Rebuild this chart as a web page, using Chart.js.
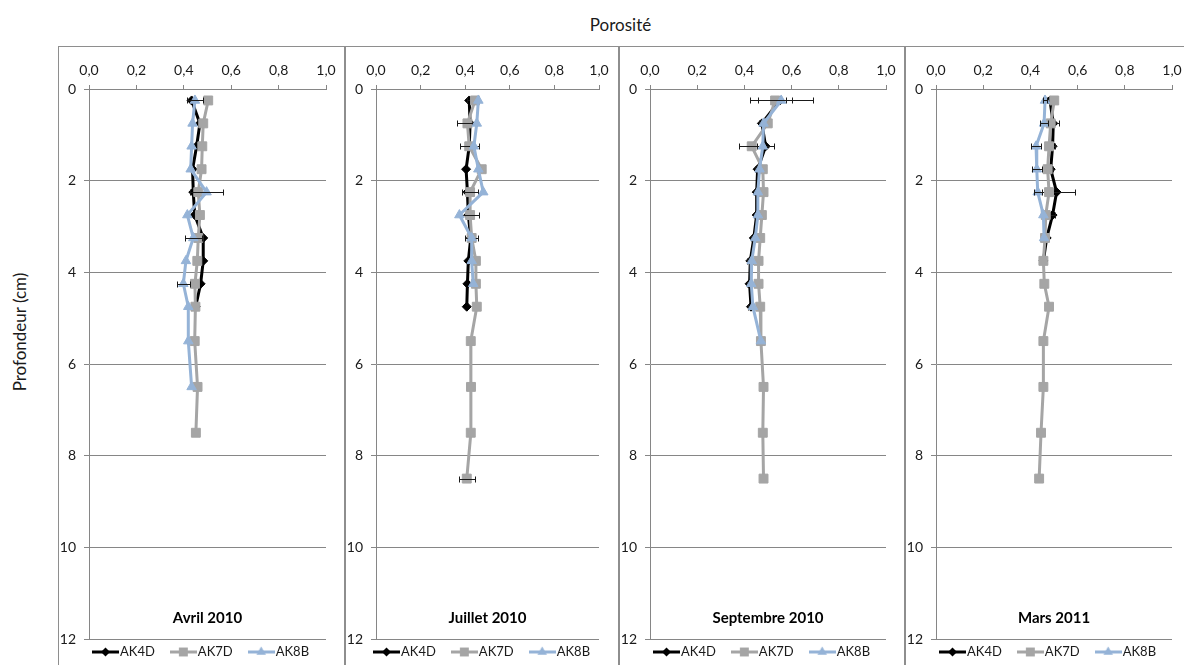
<!DOCTYPE html>
<html>
<head>
<meta charset="utf-8">
<script src="https://cdn.jsdelivr.net/npm/chart.js@4.4.1/dist/chart.umd.min.js"></script>
<style>
  html, body { margin: 0; padding: 0; background: #fff; overflow: hidden; width: 1184px; height: 665px; }
  #title { position: absolute; left: 58px; width: 1125px; top: 14px; text-align: center; font: 17px Lato, sans-serif; color: #1a1a1a; }
  #ylab { position: absolute; left: 19px; top: 332px; transform: translate(-50%, -50%) rotate(-90deg); font: 17px Lato, sans-serif; color: #1a1a1a; white-space: nowrap; }
  .panel { position: absolute; top: 46px; height: 640px; border: 1px solid #8e8e8e; box-sizing: border-box; overflow: hidden; background: #fff; }
  .panel canvas { position: absolute; left: 0; top: 0; }
</style>
</head>
<body>
<div id="title">Porosité</div>
<div id="ylab">Profondeur (cm)</div>
<div class="panel" style="left:58px;width:287px"><canvas id="c1" width="285" height="618"></canvas></div>
<div class="panel" style="left:345px;width:274px"><canvas id="c2" width="272" height="618"></canvas></div>
<div class="panel" style="left:619px;width:286px"><canvas id="c3" width="284" height="618"></canvas></div>
<div class="panel" style="left:905px;width:287px"><canvas id="c4" width="285" height="618"></canvas></div>
<script>
// Sampling depths (cm), shared by all profiles
const depths = [0.25, 0.75, 1.25, 1.75, 2.25, 2.75, 3.25, 3.75, 4.25, 4.75, 5.5, 6.5, 7.5, 8.5];
const seriesNames = ['AK4D', 'AK7D', 'AK8B'];
const panelTitles = ['Avril 2010', 'Juillet 2010', 'Septembre 2010', 'Mars 2011'];
const porosityTicks = [0, 0.2, 0.4, 0.6, 0.8, 1.0];
const depthTicks = [0, 2, 4, 6, 8, 10, 12];

// Avril 2010
const avrilAK4D = [0.433, 0.468, 0.454, 0.437, 0.440, 0.446, 0.482, 0.482, 0.471, 0.450];
const avrilAK7D = [0.503, 0.482, 0.478, 0.475, 0.461, 0.468, 0.461, 0.457, 0.447, 0.449, 0.446, 0.458, 0.451];
const avrilAK8B = [0.447, 0.437, 0.433, 0.429, 0.496, 0.415, 0.440, 0.409, 0.398, 0.419, 0.419, 0.433];
const avrilAK4DErr = [0, 0, 0, 0, 0, 0, 0, 0, 0, 0];
const avrilAK7DErr = [0, 0, 0, 0, 0, 0, 0, 0, 0, 0, 0, 0, 0];
const avrilAK8BErr = [0.033, 0, 0, 0, 0.07, 0, 0.035, 0, 0.028, 0, 0, 0];

// Juillet 2010
const juilletAK4D = [0.418, 0.422, 0.418, 0.404, 0.410, 0.414, 0.425, 0.414, 0.410, 0.407];
const juilletAK7D = [0.444, 0.410, 0.418, 0.474, 0.422, 0.422, 0.429, 0.448, 0.448, 0.452, 0.425, 0.426, 0.425, 0.407];
const juilletAK8B = [0.459, 0.452, 0.439, 0.459, 0.481, 0.374, 0.429, 0.429, 0.436];
const juilletAK4DErr = [0.01, 0, 0, 0, 0, 0, 0, 0, 0, 0];
const juilletAK7DErr = [0, 0.045, 0.042, 0, 0.035, 0.04, 0.03, 0, 0, 0, 0, 0, 0, 0.037];
const juilletAK8BErr = [0, 0, 0, 0, 0, 0, 0, 0, 0];

// Septembre 2010
const septembreAK4D = [0.550, 0.474, 0.490, 0.456, 0.452, 0.452, 0.440, 0.425, 0.422, 0.428];
const septembreAK7D = [0.530, 0.499, 0.431, 0.478, 0.481, 0.474, 0.467, 0.460, 0.460, 0.467, 0.470, 0.481, 0.478, 0.481];
const septembreAK8B = [0.556, 0.481, 0.478, 0.464, 0.457, 0.457, 0.446, 0.431, 0.429, 0.436, 0.470];
const septembreAK4DErr = [0.028, 0.012, 0.037, 0.012, 0.012, 0.012, 0.012, 0.012, 0.012, 0.012];
const septembreAK7DErr = [0.073, 0, 0.055, 0, 0, 0, 0, 0, 0, 0, 0, 0, 0, 0];
const septembreAK8BErr = [0.133, 0, 0, 0, 0, 0, 0, 0, 0, 0, 0];

// Mars 2011
const marsAK4D = [0.483, 0.497, 0.494, 0.486, 0.511, 0.494, 0.469, 0.455];
const marsAK7D = [0.501, 0.486, 0.479, 0.473, 0.479, 0.465, 0.462, 0.455, 0.459, 0.479, 0.455, 0.455, 0.445, 0.437];
const marsAK8B = [0.462, 0.458, 0.424, 0.427, 0.431, 0.455, 0.458];
const marsAK4DErr = [0, 0.025, 0.01, 0.01, 0.078, 0.01, 0, 0];
const marsAK7DErr = [0, 0, 0, 0, 0, 0, 0, 0, 0, 0, 0, 0, 0, 0];
const marsAK8BErr = [0.01, 0.018, 0.021, 0.021, 0.017, 0, 0];

Chart.defaults.font.family = 'Lato, sans-serif';

const GRID = '#868686';
const TEXT = '#1a1a1a';
const seriesStyles = [
  { color: '#000000', pointStyle: 'rectRot', radius: 4.5 },
  { color: '#a5a5a5', pointStyle: 'rect', radius: 6.3 },
  { color: '#95b3d7', pointStyle: 'triangle', radius: 5.5 }
];

// Small line-plus-marker glyph used as legend symbol
function legendGlyph(style) {
  const c = document.createElement('canvas');
  c.width = 27; c.height = 12;
  const g = c.getContext('2d');
  g.strokeStyle = style.color; g.fillStyle = style.color;
  g.lineWidth = 3;
  g.beginPath(); g.moveTo(0, 6); g.lineTo(27, 6); g.stroke();
  const cx = 13.5, cy = 6, r = style.radius;
  g.beginPath();
  if (style.pointStyle === 'rectRot') {
    g.moveTo(cx, cy - r); g.lineTo(cx + r, cy); g.lineTo(cx, cy + r); g.lineTo(cx - r, cy);
  } else if (style.pointStyle === 'rect') {
    const s = r * Math.SQRT1_2;
    g.rect(cx - s, cy - s, 2 * s, 2 * s);
  } else {
    const h = Math.sqrt(3) / 2 * r;
    g.moveTo(cx, cy - r); g.lineTo(cx + h, cy + r / 2); g.lineTo(cx - h, cy + r / 2);
  }
  g.closePath(); g.fill();
  return c;
}
const glyphs = seriesStyles.map(legendGlyph);

// Horizontal error bars, drawn with each series
const errorBars = {
  id: 'errorBars',
  afterDatasetDraw(chart, args) {
    const ds = chart.data.datasets[args.index];
    if (!ds.errors) return;
    const xs = chart.scales.x, ctx = chart.ctx;
    ctx.save();
    ctx.strokeStyle = '#1a1a1a';
    ctx.lineWidth = 1;
    args.meta.data.forEach((pt, i) => {
      const e = ds.errors[i];
      if (!e) return;
      const v = ds.data[i].x;
      const x1 = Math.round(xs.getPixelForValue(v - e)) + 0.5;
      const x2 = Math.round(xs.getPixelForValue(v + e)) + 0.5;
      const y = Math.round(pt.y) + 0.5;
      ctx.beginPath();
      ctx.moveTo(x1, y); ctx.lineTo(x2, y);
      ctx.moveTo(x1, y - 3); ctx.lineTo(x1, y + 3);
      ctx.moveTo(x2, y - 3); ctx.lineTo(x2, y + 3);
      ctx.stroke();
    });
    ctx.restore();
  }
};

// Bold date caption near the bottom of the plot area
const panelTitle = {
  id: 'panelTitle',
  afterDraw(chart, args, opts) {
    const a = chart.chartArea, ctx = chart.ctx;
    ctx.save();
    ctx.font = 'bold 15px Lato, sans-serif';
    ctx.fillStyle = '#000';
    ctx.textAlign = 'center';
    ctx.textBaseline = 'middle';
    ctx.fillText(opts.text, (a.left + a.right) / 2, a.bottom - 21);
    ctx.restore();
  }
};

// Legend row under the plot: line+marker glyph followed by the series name
const panelLegend = {
  id: 'panelLegend',
  afterDraw(chart, args, opts) {
    const ctx = chart.ctx;
    const y = chart.chartArea.bottom + 12.5;
    ctx.save();
    ctx.font = '13px Lato, sans-serif';
    ctx.textBaseline = 'middle';
    ctx.textAlign = 'left';
    ctx.fillStyle = TEXT;
    const widths = seriesNames.map(n => ctx.measureText(n).width);
    const total = widths.reduce((s, w) => s + 28 + w, 0) + 15 * (seriesNames.length - 1);
    let x = Math.round(opts.center - total / 2);
    seriesNames.forEach((n, i) => {
      ctx.drawImage(glyphs[i], x, Math.round(y - 6));
      x += 28;
      ctx.fillText(n, x, y);
      x += widths[i] + 15;
    });
    ctx.restore();
  }
};

function makePanel(canvasId, title, values, errors, target, legendCenter) {
  const datasets = values.map((vals, s) => ({
    label: seriesNames[s],
    data: vals.map((v, i) => ({ x: v, y: depths[i] })),
    errors: errors[s],
    borderColor: seriesStyles[s].color,
    backgroundColor: seriesStyles[s].color,
    borderWidth: 3,
    pointStyle: seriesStyles[s].pointStyle,
    pointRadius: seriesStyles[s].radius,
    pointBackgroundColor: seriesStyles[s].color,
    pointBorderColor: seriesStyles[s].color,
    pointBorderWidth: 1,
    tension: 0,
    order: 3 - s
  }));

  const chart = new Chart(document.getElementById(canvasId), {
    type: 'line',
    data: { datasets },
    plugins: [errorBars, panelTitle, panelLegend],
    options: {
      responsive: false,
      animation: false,
      events: [],
      layout: { padding: { left: 0, top: 0, right: 18, bottom: 26 } },
      plugins: {
        tooltip: { enabled: false },
        legend: { display: false },
        panelTitle: { text: title },
        panelLegend: { center: legendCenter }
      },
      scales: {
        x: {
          type: 'linear',
          position: 'top',
          min: porosityTicks[0],
          max: porosityTicks[porosityTicks.length - 1],
          afterBuildTicks: (s) => { s.ticks = porosityTicks.map(v => ({ value: v })); },
          ticks: {
            padding: 6,
            maxRotation: 0,
            color: TEXT,
            font: { size: 14 },
            callback: (v) => Number(v).toFixed(1).replace('.', ',')
          },
          grid: { drawOnChartArea: false, tickLength: 4, color: GRID },
          border: { color: GRID },
          afterFit: (s) => { s.height = 42; s.paddingLeft = 0; s.paddingRight = 0; }
        },
        y: {
          type: 'linear',
          reverse: true,
          min: depthTicks[0],
          max: depthTicks[depthTicks.length - 1],
          afterBuildTicks: (s) => { s.ticks = depthTicks.map(v => ({ value: v })); },
          ticks: { padding: 8, color: TEXT, font: { size: 14 } },
          grid: { color: GRID, tickLength: 5 },
          border: { color: GRID },
          afterFit: (s) => { s.width = 30; s.paddingTop = 0; s.paddingBottom = 0; }
        }
      }
    }
  });

  // Pin the plot area to the intended frame
  const a = chart.chartArea, p = chart.options.layout.padding;
  p.right += a.right - target.right;
  p.bottom += a.bottom - target.bottom;
  p.top += target.top - a.top;
  chart.update();
  return chart;
}

makePanel('c1', panelTitles[0], [avrilAK4D, avrilAK7D, avrilAK8B],
  [avrilAK4DErr, avrilAK7DErr, avrilAK8BErr], { top: 42, right: 267, bottom: 592 }, 142);
makePanel('c2', panelTitles[1], [juilletAK4D, juilletAK7D, juilletAK8B],
  [juilletAK4DErr, juilletAK7DErr, juilletAK8BErr], { top: 42, right: 253, bottom: 592 }, 136);
makePanel('c3', panelTitles[2], [septembreAK4D, septembreAK7D, septembreAK8B],
  [septembreAK4DErr, septembreAK7DErr, septembreAK8BErr], { top: 42, right: 266, bottom: 592 }, 142);
makePanel('c4', panelTitles[3], [marsAK4D, marsAK7D, marsAK8B],
  [marsAK4DErr, marsAK7DErr, marsAK8BErr], { top: 42, right: 266, bottom: 592 }, 142);
</script>
</body>
</html>
